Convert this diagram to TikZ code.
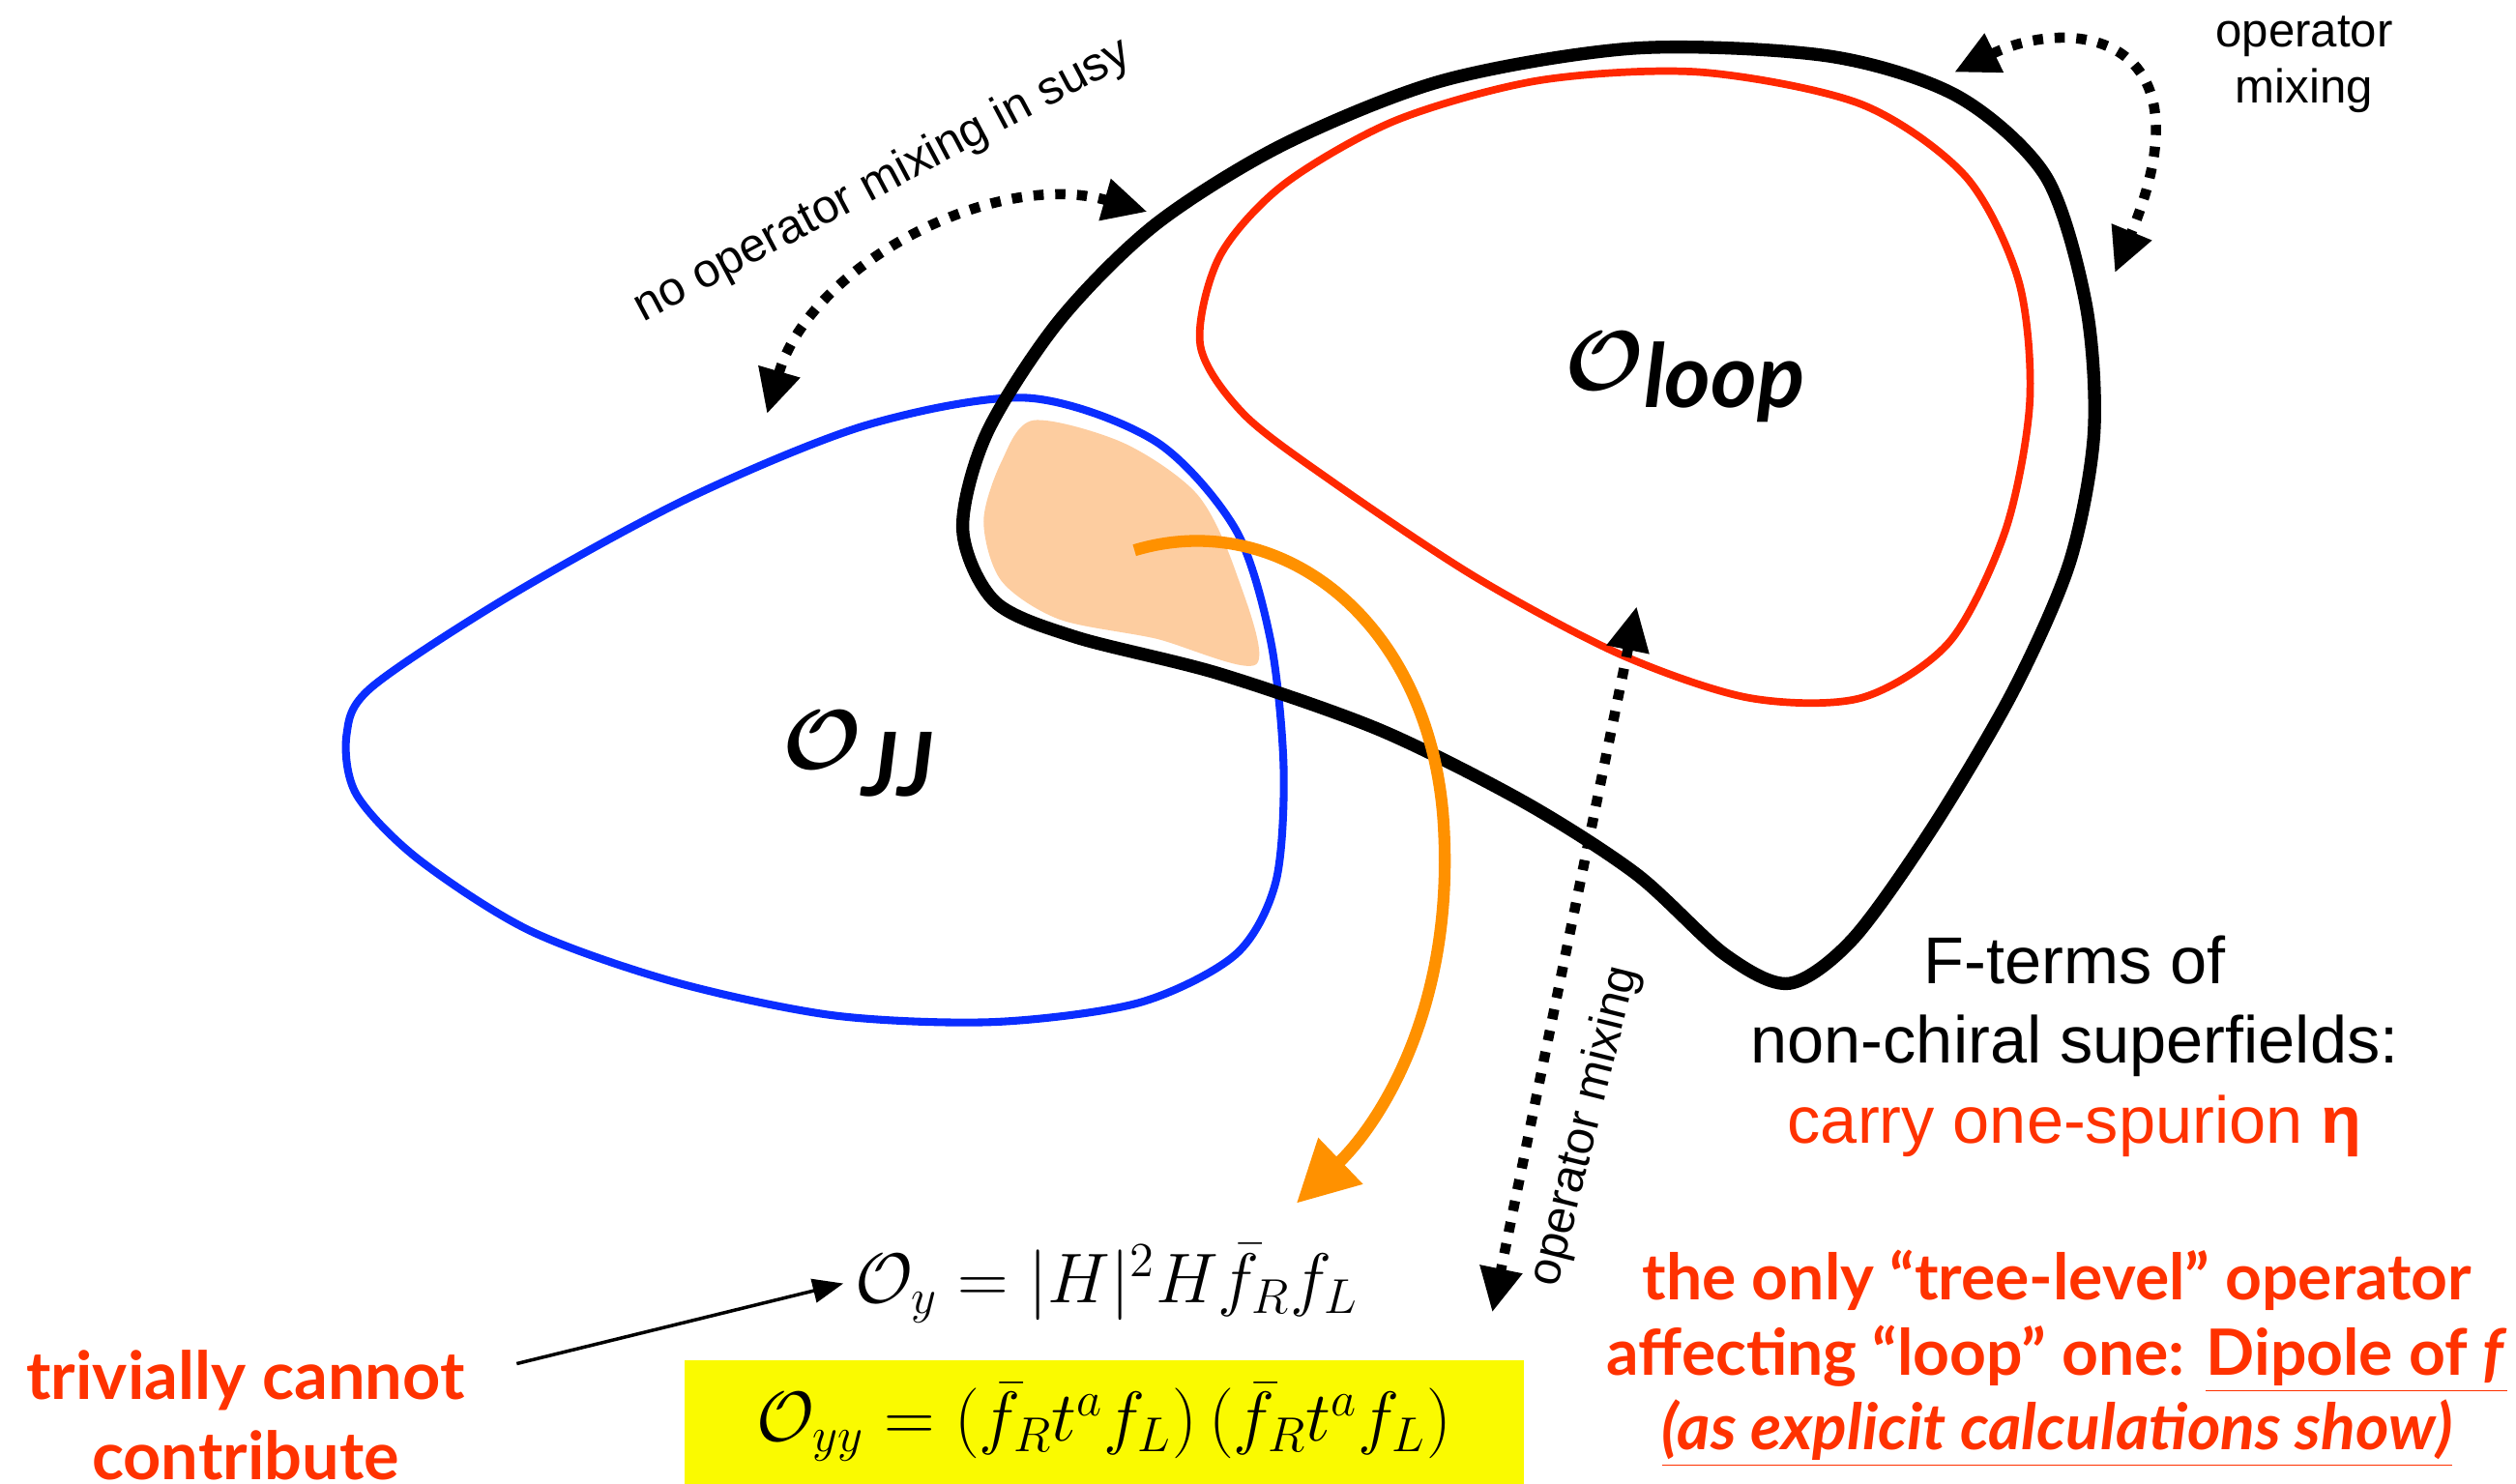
\documentclass[tikz,border=0pt]{standalone}
\usepackage[no-math]{fontspec}
\setmainfont{Liberation Sans}
\newfontfamily\gill{Lato}
\usetikzlibrary{arrows.meta}
\definecolor{jjblue}{RGB}{10,45,255}
\definecolor{loopred}{RGB}{255,40,0}
\definecolor{mixorange}{RGB}{255,145,0}
\definecolor{overlap}{RGB}{253,205,160}
\definecolor{boxyellow}{RGB}{250,250,0}
\definecolor{notered}{RGB}{255,50,0}

\begin{document}
\begin{tikzpicture}[x=0.016594cm, y=-0.016594cm,
  mixing/.style={line width=3pt, dash pattern=on 3pt off 3.4pt, {Triangle[length=13pt,width=12pt]}-{Triangle[length=13pt,width=12pt]}},
  small/.style={font=\fontsize{14}{16.5}\selectfont, align=center},
  side/.style={font=\fontsize{19.5}{23.5}\selectfont, align=center},
  remark/.style={font=\gill\bfseries\fontsize{18.8}{22}\selectfont, text=notered, align=center},
  opname/.style={font=\fontsize{20.5}{24}\selectfont},
  setname/.style={inner sep=0pt}]
\useasboundingbox (0,0) rectangle (1568,925);

\fill[overlap] plot[smooth cycle] coordinates {(644,262) (700,276) (746,308) (770,356) (783,414) (720,398) (660,386) (624,362) (613,325) (624,288)};

\draw[jjblue, line width=2.3pt] plot[smooth cycle] coordinates {(232,428) (320,370) (430,310) (540,265) (640,248) (720,275) (770,330) (792,400) (800,480) (795,550) (770,595) (710,625) (620,637) (520,633) (420,612) (330,580) (260,535) (222,495) (216,458)};
\draw[loopred, line width=2.2pt] plot[smooth cycle] coordinates {(748,215) (760,160) (800,115) (870,75) (960,50) (1060,45) (1160,65) (1225,110) (1258,175) (1265,250) (1250,330) (1215,400) (1160,435) (1090,435) (1010,408) (920,360) (830,300) (775,258)};
\draw[line width=3.8pt] plot[smooth cycle] coordinates {(600,330) (615,270) (660,200) (720,140) (800,90) (900,50) (1020,30) (1140,35) (1220,60) (1275,110) (1300,190) (1305,270) (1290,350) (1255,430) (1205,515) (1155,585) (1115,613) (1075,595) (1020,545) (950,500) (860,455) (760,420) (670,397) (620,375)};

\node[setname] (oloop) at (1050,235) {{\fontsize{38}{40}\selectfont\boldmath$\mathcal{O}$}\raisebox{-5pt}{\gill\itshape\bfseries\fontsize{26}{30}\selectfont loop}};
\node[setname] (ojj) at (535,470) {{\fontsize{38}{40}\selectfont\boldmath$\mathcal{O}$}\raisebox{-8pt}{\gill\itshape\bfseries\fontsize{26}{30}\selectfont JJ}};

\coordinate (susyA) at (478,258);
\coordinate (susyB) at (715,132);
\draw[mixing] (susyA) .. controls (505,165) and (620,105) .. (susyB);
\node[small, rotate=28] (nomix) at (550,113) {no operator mixing in susy};

\coordinate (topA) at (1218,45);
\coordinate (topB) at (1318,170);
\draw[mixing] (topA) .. controls (1290,10) and (1380,20) .. (topB);
\node[small] (topmix) at (1436,40) {operator\\mixing};

\coordinate (midA) at (1020,378);
\coordinate (midB) at (930,818);
\draw[mixing] (midA) -- (midB);
\node[small, rotate=76] (midmix) at (988,702) {operator mixing};

\coordinate (orsrc) at (707,343);
\coordinate (ortip) at (808,750);
\draw[mixorange, line width=3.5pt, -{Triangle[length=18pt,width=18pt]}] (orsrc) .. controls (800,315) and (895,390) .. (900,520) .. controls (905,630) and (860,700) .. (ortip);

\node[side] (fterms) at (1293,652) {F-terms of\\non-chiral superfields:\\\textcolor{notered}{carry one-spurion \textbf{η}}};

\node[opname] (oy) at (690,800) {$\mathcal{O}_y = |H|^2 H \bar f_R f_L$};
\node[opname, fill=boxyellow, minimum width=523*0.016594cm, minimum height=77*0.016594cm] (oyy) at (688,886.5) {$\mathcal{O}_{yy} = \bigl(\bar f_R t^a f_L\bigr)\,\bigl(\bar f_R t^a f_L\bigr)$};

\node[remark, font=\gill\bfseries\fontsize{19.5}{23.5}\selectfont] (trivial) at (153,882) {trivially cannot\\contribute};
\coordinate (trivout) at (322,850);
\draw[line width=1pt, -{Triangle[length=9pt,width=7pt]}] (trivout) -- (oy.west);

\node[remark] (treelevel) at (1282,847) {the only “tree-level” operator\\affecting “loop” one: \underline{Dipole of \textit{f}}\\\underline{\textit{(as explicit calculations show)}}};
\end{tikzpicture}
\end{document}
